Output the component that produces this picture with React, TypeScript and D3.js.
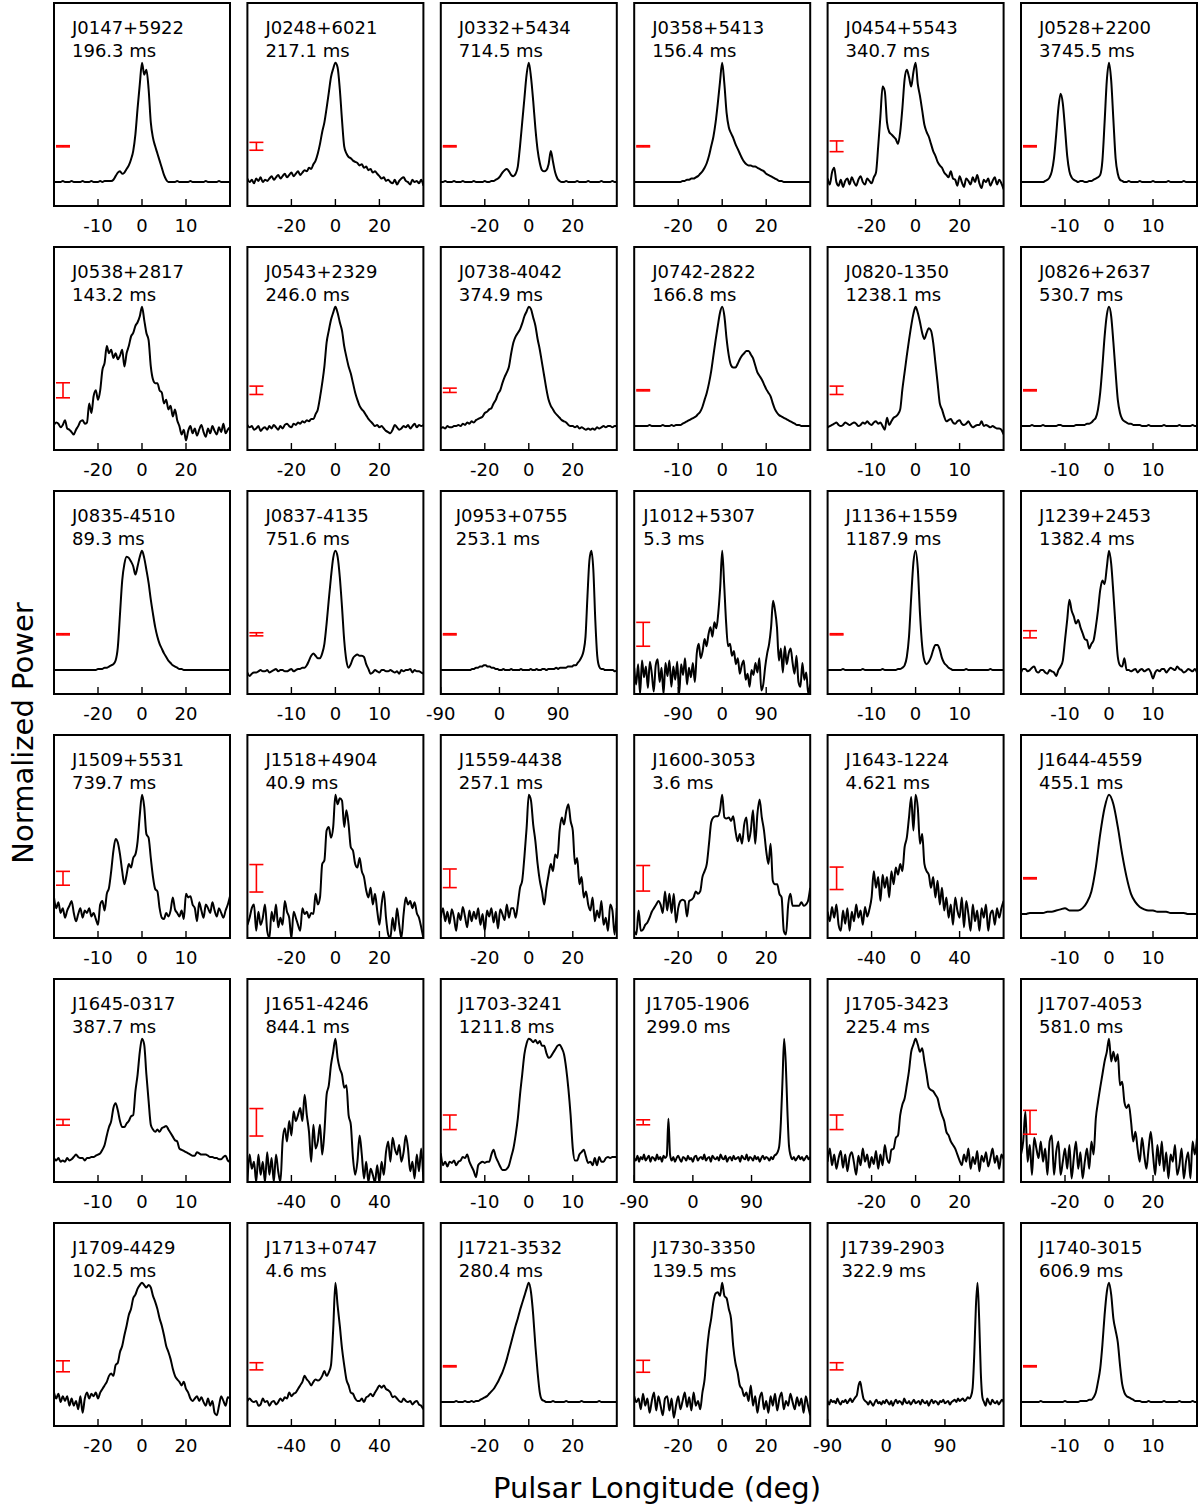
import React from "react";
import * as d3 from "d3";

// ---- Pulsar catalogue (row-major, 6 columns) ----
const pulsarNames = [
  "J0147+5922", "J0248+6021", "J0332+5434", "J0358+5413", "J0454+5543", "J0528+2200",
  "J0538+2817", "J0543+2329", "J0738-4042", "J0742-2822", "J0820-1350", "J0826+2637",
  "J0835-4510", "J0837-4135", "J0953+0755", "J1012+5307", "J1136+1559", "J1239+2453",
  "J1509+5531", "J1518+4904", "J1559-4438", "J1600-3053", "J1643-1224", "J1644-4559",
  "J1645-0317", "J1651-4246", "J1703-3241", "J1705-1906", "J1705-3423", "J1707-4053",
  "J1709-4429", "J1713+0747", "J1721-3532", "J1730-3350", "J1739-2903", "J1740-3015",
];

const periodsMs = [
  "196.3", "217.1", "714.5", "156.4", "340.7", "3745.5",
  "143.2", "246.0", "374.9", "166.8", "1238.1", "530.7",
  "89.3", "751.6", "253.1", "5.3", "1187.9", "1382.4",
  "739.7", "40.9", "257.1", "3.6", "4.621", "455.1",
  "387.7", "844.1", "1211.8", "299.0", "225.4", "581.0",
  "102.5", "4.6", "280.4", "139.5", "322.9", "606.9",
];

// longitude window of each panel: n=±20, m=±40, w=±80, r=-90..180, f=±180
const windowCodes = [
  "n", "m", "m", "m", "m", "n",
  "m", "m", "m", "n", "n", "n",
  "m", "n", "r", "f", "n", "n",
  "n", "m", "m", "m", "w", "n",
  "n", "w", "n", "r", "m", "m",
  "m", "w", "m", "m", "r", "n",
];

const windowDomains: Record<string, [number, number]> = {
  n: [-20, 20], m: [-40, 40], w: [-80, 80], r: [-90, 180], f: [-180, 180],
};
const windowTicks: Record<string, number[]> = {
  n: [-10, 0, 10], m: [-20, 0, 20], w: [-40, 0, 40], r: [-90, 0, 90], f: [-90, 0, 90],
};

// off-pulse noise level (half-length of the red bar, normalized power)
const noiseLevels = [
  0.005, 0.033, 0.005, 0.005, 0.045, 0.005,
  0.063, 0.035, 0.018, 0.005, 0.035, 0.005,
  0.005, 0.013, 0.005, 0.1, 0.005, 0.03,
  0.058, 0.115, 0.078, 0.107, 0.094, 0.005,
  0.024, 0.115, 0.061, 0.021, 0.061, 0.1,
  0.046, 0.03, 0.005, 0.05, 0.03, 0.005,
];
const noiseBarLevel = 0.3;

// ---- Profiles: power in % of peak, evenly sampled across each window ----
const pJ0147 = [0,0,0,0,1,0,0,0,1,0,0,0,0,1,0,0,0,1,0,0,0,1,0,1,1,1,
  1,2,5,8,9,7,8,11,14,19,26,40,62,82,100,90,94,78,50,37,30,24,18,12,6,2,0,
  0,0,0,1,0,0,0,0,0,1,0,0,0,0,0,0,1,0,0,0,0,0,1,0,0,0,0,0];
const pJ0248 = [3,0,2,-1,3,1,4,0,2,1, 3,5,2,4,6,3,5,7,4,6, 8,5,7,9,6,8,10,9,12,11,
  15,18,24,32,42,50,62,75,88,95, 100,96,78,52,30,24,21,20,18,17, 16,14,15,12,13,10,11,8,9,7,
  5,3,4,1,2,0,-1,2,-2,1, 3,4,1,0,-2,2,0,1,-1,2,-3];
const pJ0332 = [0,0,1,0,0,0,1,0,0,0,1,0,0,0,0,1,0,0,0,0,1,0,0,1,1,2,
  3,5,8,10,11,9,6,5,7,13,30,50,70,90, 100, 88,68,45,27,16,10,9,10,15,26,17,8,3,1,
  0,0,1,0,0,0,0,1,0,0,0,0,1,0,0,0,0,0,1,0,0,0,0,1,0,0];
const pJ0358 = [0,0,0,0,0,0,0,0,0,0,0,0,0,0,0,0,0,0,0,0,0,0,1,1,2,
  2,3,3,4,5,7,9,12,16,22,30,38,50,66,84, 100,
  82,58,46,41,37,32,28,24,20,17,15,14,14,13,13,12,11,10,9,7,6,5,4,3,2,1,1,
  0,0,0,0,0,0,0,0,0,0,0,0,0];
const pJ0454 = [3,-2,8,12,0,-3,2,-4,1,3,-2,4,0,-3,2,5,0,-2,3,1,-1,4,
  8,30,55,80,76,50,42,40,38,36,32,42,62,86,94,88,80,92, 100,
  82,72,60,48,42,38,32,26,22,17,14,12,8,6,4,9,3,
  2,-3,5,0,-4,3,1,-2,4,0,6,-1,-5,2,0,3,-3,1,4,-2,2,-1,-6];
const pJ0528 = [0,0,0,0,0,0,0,0,0,0,0,1,2,
  4,9,20,40,62,74,66,45,22,9,4,2,1,0,1,1,0,0,1,1,2,3,4,6,18,50,85,100,85,52,20,7,2,1,
  0,0,1,0,0,0,0,1,0,0,0,0,0,1,0,0,0,0,0,0,1,0,0,0,0,0,0,1,0,0,0,0,0,0];
const pJ0538 = [1,3,2,-1,1,5,-2,-3,-5,-7,-3,0,4,5,2,3,
  19,11,25,30,22,30,47,53,67,61,64,57,61,56,59,64,50,61,67,75,78,84,87,92, 100,
  89,78,72,50,39,36,36,30,28,19,22,14,17,8,14,5,0,-7,-3,
  -12,-4,0,-6,-2,-8,-3,1,-5,-9,-2,-6,0,-4,-7,-1,-5,2,-6,-3,-1];
const pJ0543 = [1,-1,0,-3,-2,0,-4,-2,-1,-3,0,-2,1,-1,-3,0,-2,1,2,0,-1,2,1,3,2,4,3,5,4,6,
  6,10,14,24,36,50,70,80,89,95, 100,
  95,87,80,67,58,50,44,36,28,22,17,14,12,9,6,4,2,0,1,-1,
  0,-2,-4,-5,-6,-3,1,-1,-3,-2,0,-1,1,-2,0,2,-1,1,0,1];
const pJ0738 = [-2,-1,-2,0,-1,-1,0,0,1,0,2,1,3,2,4,3,5,6,7,8,
  11,12,14,15,19,22,27,30,36,41,45,50,61,70,75,78,81,86,92,96, 100,
  98,91,84,73,64,53,42,31,22,17,14,11,9,7,5,4,3,1,0,0,
  -1,0,-2,-1,-2,-3,-2,-3,-2,-3,-1,-2,-1,0,-1,0,0,-1,0,0];
const pJ0742 = [0,0,0,0,0,0,0,1,0,0,0,0,0,1,0,0,0,1,0,1,
  1,1,2,3,4,5,6,7,8,10,12,16,22,28,36,46,59,72,84,95, 100,
  92,73,59,51,49,49,52,56,59,61,63,63,60,57,51,45,42,39,35,31,
  28,25,19,14,11,9,8,7,6,5,4,3,2,1,1,0,0,0,0,0];
const pJ0820 = [-1,0,1,2,3,1,0,1,3,2,1,2,3,2,0,1,3,2,4,2,
  1,3,4,2,3,0,-3,7,1,4,7,8,10,14,31,45,59,72,84,94, 100,
  95,87,78,73,78,82,80,70,53,36,19,14,8,4,5,6,3,2,4,5,
  2,1,2,4,1,-1,0,1,1,4,0,1,0,-1,0,-1,-2,-2,-3,-7];
const pJ0826 = [0,0,0,0,0,1,0,0,0,0,1,0,0,0,0,0,0,1,1,0,0,0,0,0,0,1,1,1,
  1,1,2,2,3,5,7,14,28,50,75,93,100,92,70,45,22,11,6,4,3,2,2,1,1,
  1,1,0,0,0,1,0,0,0,0,0,0,1,0,0,0,0,0,0,1,0,0,0,0,0,1,0,0];
const pJ0835 = [0,0,0,0,0,0,0,0,0,0,0,0,0,0,0,0,0,0,0,0,1,1,1,2,2,
  3,4,5,8,19,47,75,89,95,94,91,87,80,87,95, 100,
  94,84,73,59,47,36,28,22,18,14,11,8,6,4,3,2,1,1,0,0,
  0,0,0,0,0,0,0,0,0,0,0,0,0,0,0,0,0,0,0,0];
const pJ0837 = [-2,-5,-3,-2,-2,-1,0,-1,-1,0,-2,-1,0,1,-1,0,0,-1,-1,0,
  1,-1,0,1,1,2,2,4,8,12,14,12,10,10,14,22,39,59,78,94, 100,
  95,78,53,25,8,2,5,10,12,13,12,12,11,5,1,-3,-2,0,-1,-2,
  0,0,-1,-1,0,-1,-2,-1,-3,0,-1,0,0,1,-2,0,-1,-1,-2,-3];
const pJ0953 = [0,0,0,0,0,0,0,0,0,0,0,0,0,0,0,0,1,
  1,2,2,3,3,4,4,3,3,2,2,1,1,
  0,0,1,0,0,0,1,0,0,0,0,1,0,0,0,0,1,0,0,1,0,0,1,1,0,1,1,1,1,2,1,2,2,2,2,3,3,
  3,4,4,6,8,11,16,28,62,92,100,84,42,12,3,1,
  1,0,0,0,0,0,-1,0];
const pJ1012 = [2,-12,5,-20,8,-6,3,-15,7,-3,-18,4,9,-10,2,-20,6,-5,8,-14,3,-8,7,-20,5,-4,10,-12,2,-6,
  6,-10,14,22,10,16,26,20,30,36,28,40,35,48,70, 100,
  72,40,20,22,12,16,5,10,-3,4,8,-8,-3,-14,0,
  -4,6,-2,10,-17,-12,3,14,22, 36,58,50,36,8,18,
  -2,20,5,14,18,6,-3,12,-10,-14,6,-8,-2,-20,-12];
const pJ1136 = [0,0,0,0,0,0,0,1,0,0,0,0,0,0,0,0,1,0,0,0,0,0,0,0,0,1,0,0,0,0,0,0,1,
  1,2,4,11,28,61,90,100,85,47,20,8,5,7,11,17,21,21,17,10,6,4,2,1,
  0,0,0,0,0,0,1,0,0,0,0,0,0,0,0,0,0,1,0,0,0,0,0,0];
const pJ1239 = [-2,1,1,-1,0,2,3,-1,-2,0,0,-2,-3,0,-1,-2,-5,0,3,8,
  25,42,59,50,45,39,42,36,31,26,25,18,22,25,36,50,67,75,72,86, 100,
  89,64,36,11,4,3,10,0,0,-1,0,1,-2,0,1,-1,0,1,-2,-7,
  -2,0,-1,1,1,-2,0,2,1,0,3,1,0,-2,-1,1,0,-1,1,-2];
const pJ1509 = [14,5,10,1,5,-3,3,7,11,1,-6,0,5,-3,3,1,5,-2,1,-4,
  -9,8,11,3,17,22,36,53,63,60,50,36,25,33,42,39,47,50,61,83, 100,
  90,67,64,47,31,21,19,5,-3,-4,1,-2,3,14,4,1,-2,3,-4,17,
  14,15,8,5,-6,10,3,-3,8,5,1,10,3,-2,5,1,-3,3,8,15];
const pJ1518 = [-9,-3,5,8,-14,2,-9,-3,8,-14,-20,2,-6,8,-11,-3,-9,11,2,-3,
  -20,2,-3,-9,-14,5,0,2,-3,1,0,17,8,14,42,45,70,73,64,73, 100,
  92,97,95,73,87,75,56,53,42,39,47,36,31,20,14,22,8,17,3,-9,
  8,19,-3,-17,-20,-3,-14,5,-9,-20,0,14,8,11,5,10,1,-3,-11,-20];
const pJ1559 = [-3,5,-6,2,-8,4,-3,-14,1,-5,6,-2,-11,3,-6,2,-4,5,-9,0,
  -14,3,-2,5,-7,2,-12,4,0,-5,8,-3,5,5,-3,8,22,28,48,72, 100,
  95,75,61,42,28,19,8,22,33,42,36,50,47,70,81,75,86,92,78,70,
  42,47,25,31,14,19,8,3,14,-6,3,-3,11,-9,-3,-14,8,3,-17,5];
const pJ1600 = [-14,-17,3,-14,-13,-9,-7,-3,2,5,8,11,8,1,19,3,17,1,17,-7,
  5,11,12,11,-2,11,12,14,19,17,19,31,36,42,59,77,81,82,82,87, 100,
  81,80,81,78,82,70,61,67,59,75,81,61,70,87,59,84,96,81,70,53,
  42,59,28,25,25,17,14,-14,-17,8,17,7,7,7,7,10,7,8,11,22];
const pJ1643 = [2,-6,6,-3,8,-9,-14,3,-8,5,-14,2,-6,8,-3,3,-9,6,-2,4,
  14,36,22,31,11,33,22,31,14,36,25,39,33,42,36,56,64,81,98,70, 100,
  89,59,67,42,36,33,22,31,14,28,8,22,3,14,-3,8,-9,14,3,-3,
  14,-11,11,0,-14,8,-6,3,-14,5,-3,8,-14,0,3,-9,5,-3,5,11];
const pJ1644 = [0,0,1,1,1,1,2,2,
  3,4,5,3,3,3,5,10,19,39,67,89,100,92,73,50,31,17,10,6,4,
  3,3,2,2,2,1,1,1,1,0,0,0];
const pJ1645 = [0,-2,0,-3,-2,-3,0,-2,-1,1,3,1,0,0,-2,0,0,1,1,2,
  3,4,7,11,19,26,31,42,46,40,31,26,26,29,31,35,36,56,70,89, 100,
  95,70,48,28,24,22,24,22,25,26,27,24,21,18,15,14,8,7,6,5,
  4,3,2,2,5,4,3,3,3,2,1,1,0,0,-1,-1,1,2,-2,-3];
const pJ1651 = [-20,3,-9,-3,-20,3,-14,-3,-20,5,-14,0,-20,3,-11,-20,14,25,14,31,
  19,39,31,36,42,31,53,36,22,-3,28,8,14,28,3,22,53,61,78,89, 100,
  84,75,70,59,61,36,28,0,-14,-3,19,3,-17,-3,-20,-9,-14,-20,-6,-20,
  -3,-14,5,14,-3,17,8,3,11,-3,5,19,8,-11,-3,-17,3,-11,8,-20];
const pJ1703 = [4,-6,-3,-7,-3,-4,-2,-6,-3,-2,1,0,3,-3,-7,-11,-16,-6,-4,-3,
  -4,-3,-3,3,7,1,-3,-7,-10,-10,-9,-6,1,8,19,33,53,70,87,96, 100,
  99,97,99,96,98,94,94,88,84,85,88,91,94,95,92,87,75,58,36,8,
  -2,-2,3,5,7,1,-4,-3,-6,0,-6,1,-3,-3,0,1,0,1,1,1];
const pJ1705a = [0,-2,2,-3,1,-1,3,-2,0,2,-3,1,0,-2,3,-1,1,-3,2,0,
  2,33,3,
  -2,1,-3,0,2,-1,-3,1,0,-2, 2,-1,0,-3,1,2,-2,0,1,-1, 3,-2,0,1,-3,2,0,-1,1,-2,
  3,0,-1,2,-3,0,1,-2,2,-1, 0,1,-3,2,0,-1,3,-2,1,0, -2,2,-1,1,-3,0,2,-1,1,0, -2,
  1,-1,2,3,5,10,30,65,100,80,40,10,2,-1,1,-2,0,2,-1,1,-2,0,2,-1,1];
const pJ1705b = [-3,8,-6,3,-9,0,6,-8,3,-11,1,5,-4,-14,2,-6,8,-3,3,-8,
  1,-5,6,-9,3,-6,11,0,-4,7,8,17,19,36,45,50,61,73,89,95, 100,
  95,89,92,81,70,59,57,56,53,50,42,36,31,22,19,14,11,8,3,-2,
  -6,3,-3,8,-9,1,-5,6,-11,2,-3,5,-7,0,8,-4,2,-9,3,-1];
const pJ1707 = [3,14,39,-3,11,-14,17,8,0,14,-3,8,-14,14,19,-14,5,14,-14,-3,
  8,-9,11,-17,0,14,-9,5,-17,-3,8,-9,14,3,33,47,59,70,81,89, 100,
  81,89,81,87,61,64,47,42,45,31,14,22,8,-3,17,3,-9,8,22,3,
  -14,11,-6,14,-11,5,-17,3,-3,11,-14,-6,8,-17,-3,5,-17,14,3,17];
const pJ1709 = [8,3,7,0,5,1,5,-3,3,-3,1,-6,5,-9,3,8,3,7,5,8,
  3,8,11,14,17,22,24,22,31,33,42,47,56,64,73,78,87,90,95,98, 100,
  98,96,98,96,89,84,78,70,64,56,47,42,36,28,22,19,17,14,17,11,
  8,3,1,3,5,1,4,0,-3,3,-3,1,-9,-11,-3,5,1,-3,4,3];
const pJ1713 = [1,3,1,0,1,-3,-2,3,0,1,-3,0,1,-2,0,3,1,4,3,8,
  5,7,8,11,14,17,22,19,17,14,17,19,18,19,22,26,22,25,31,61, 100,
  81,64,45,31,19,14,8,7,3,1,1,3,0,4,5,7,5,8,11,14,
  12,14,11,10,8,4,5,3,1,0,3,1,0,1,-2,0,1,-2,-3,-6];
const pJ1721 = [0,0,0,0,0,0,0,1,0,0,0,1,0,0,1,0,1,1,
  2,3,4,5,7,9,11,14,17,21,25,30,36,43,50,57,64,70,77,83,89,95, 100,
  92,73,47,25,8,2,1,0,
  0,0,1,0,0,0,0,0,1,0,0,0,0,0,0,1,0,0,0,0,0,0,0,1,0,0,0,0,0,0,0,0];
const pJ1730 = [5,0,3,-6,7,-3,3,-9,1,8,-7,5,-3,-11,3,5,-7,3,-13,-3,
  5,-6,1,8,-4,4,-7,8,-3,1,-6,8,19,42,59,70,84,91,92,89, 100,
  89,87,78,70,47,33,25,14,11,5,8,1,14,-3,5,-9,3,8,-6,1,
  -9,5,-3,7,-7,3,8,-6,1,-3,7,0,-6,4,-3,3,-9,5,-3,-11];
const pJ1739 = [1,-2,2,0,1,-1,3,0,-2,1,0,2,-1,1,3,0,2,
  4,6,14,17,10,3,1,
  0,-2,1,-1,-3,0,2,-1,0,-2, 1,-1,2,0,-2,1,-3,0,2,-1, 1,0,-2,3,0,-1,1,-2,0,2,
  -1,0,1,-2,2,0,-1,1,-3,0, 2,-1,1,0,-2,1,0,2,-1,0, 1,-2,0,1,2,0,3,1,2,3, 1,2,4,3,5,
  12,40,80,100,70,25,4,0,-3,3,0,-2,2,0,-1,1,-2,0,2,0];
const pJ1740 = [0,0,0,0,0,0,0,0,0,1,0,0,0,0,0,0,0,0,0,0,1,0,0,0,0,0,0,1,1,
  1,1,2,2,4,8,17,28,48,73,92,100,90,70,60,50,31,15,8,5,4,3,2,1,
  1,1,0,0,0,1,0,0,0,0,0,0,1,0,0,0,0,0,0,1,0,0,0,0,0,1,0,0];

const profiles = [
  pJ0147, pJ0248, pJ0332, pJ0358, pJ0454, pJ0528,
  pJ0538, pJ0543, pJ0738, pJ0742, pJ0820, pJ0826,
  pJ0835, pJ0837, pJ0953, pJ1012, pJ1136, pJ1239,
  pJ1509, pJ1518, pJ1559, pJ1600, pJ1643, pJ1644,
  pJ1645, pJ1651, pJ1703, pJ1705a, pJ1705b, pJ1707,
  pJ1709, pJ1713, pJ1721, pJ1730, pJ1739, pJ1740,
];

// ---- layout ----
const FIG_W = 1204;
const FIG_H = 1507;
const PANEL_X0 = 54;
const PANEL_Y0 = 3;
const COL_STEP = 193.4;
const ROW_STEP = 244;
const PW = 176;
const PH = 203;
const POWER_DOMAIN: [number, number] = [-0.2, 1.5];
const FONT = "DejaVu Sans, Verdana, sans-serif";
const labelInset: Record<number, number> = { 14: 15, 15: 9, 27: 12, 34: 14 };

function Panel({ index }: { index: number }) {
  const col = index % 6;
  const row = Math.floor(index / 6);
  const left = PANEL_X0 + col * COL_STEP;
  const top = PANEL_Y0 + row * ROW_STEP;
  const code = windowCodes[index];
  const [x0, x1] = windowDomains[code];

  const x = d3.scaleLinear().domain([x0, x1]).range([left, left + PW]);
  const y = d3.scaleLinear().domain(POWER_DOMAIN).range([top + PH, top]);

  const values = profiles[index];
  const step = (x1 - x0) / (values.length - 1);
  const points: [number, number][] = values.map((v, k) => [x0 + k * step, v / 100]);
  const line = d3
    .line<[number, number]>()
    .x((d) => x(d[0]))
    .y((d) => y(d[1]))
    .curve(d3.curveMonotoneX);

  const clipId = `clip-${index}`;
  const err = noiseLevels[index];
  const barX = left + 9;
  const capHalf = 7;
  const yLo = y(noiseBarLevel - err);
  const yHi = y(noiseBarLevel + err);
  const inset = labelInset[index] ?? 18;

  return (
    <g>
      <defs>
        <clipPath id={clipId}>
          <rect x={left} y={top} width={PW} height={PH} />
        </clipPath>
      </defs>
      <path
        d={line(points) ?? ""}
        fill="none"
        stroke="#000"
        strokeWidth={2}
        strokeLinejoin="round"
        clipPath={`url(#${clipId})`}
      />
      <g stroke="#ff0000" strokeWidth={1.6} fill="none">
        <line x1={barX} x2={barX} y1={yLo} y2={yHi} />
        <line x1={barX - capHalf} x2={barX + capHalf} y1={yLo} y2={yLo} />
        <line x1={barX - capHalf} x2={barX + capHalf} y1={yHi} y2={yHi} />
      </g>
      {windowTicks[code].map((t) => (
        <g key={t}>
          <line x1={x(t)} x2={x(t)} y1={top + PH} y2={top + PH - 7} stroke="#000" strokeWidth={1.4} />
          <text x={x(t)} y={top + PH + 26} fontSize={18} textAnchor="middle" fill="#000">
            {String(t)}
          </text>
        </g>
      ))}
      <rect x={left} y={top} width={PW} height={PH} fill="none" stroke="#000" strokeWidth={2} />
      <text x={left + inset} y={top + 31} fontSize={18} fill="#000">
        {pulsarNames[index]}
      </text>
      <text x={left + inset} y={top + 54} fontSize={18} fill="#000">
        {`${periodsMs[index]} ms`}
      </text>
    </g>
  );
}

export default function App() {
  return (
    <svg
      width={FIG_W}
      height={FIG_H}
      viewBox={`0 0 ${FIG_W} ${FIG_H}`}
      style={{ position: "absolute", left: 0, top: 0, display: "block" }}
      fontFamily={FONT}
    >
      <rect x={0} y={0} width={FIG_W} height={FIG_H} fill="#fff" />
      {pulsarNames.map((_, i) => (
        <Panel key={i} index={i} />
      ))}
      <text
        transform="translate(33,733) rotate(-90)"
        fontSize={29}
        textAnchor="middle"
        fill="#000"
      >
        Normalized Power
      </text>
      <text x={657} y={1498} fontSize={29} textAnchor="middle" fill="#000">
        Pulsar Longitude (deg)
      </text>
    </svg>
  );
}
